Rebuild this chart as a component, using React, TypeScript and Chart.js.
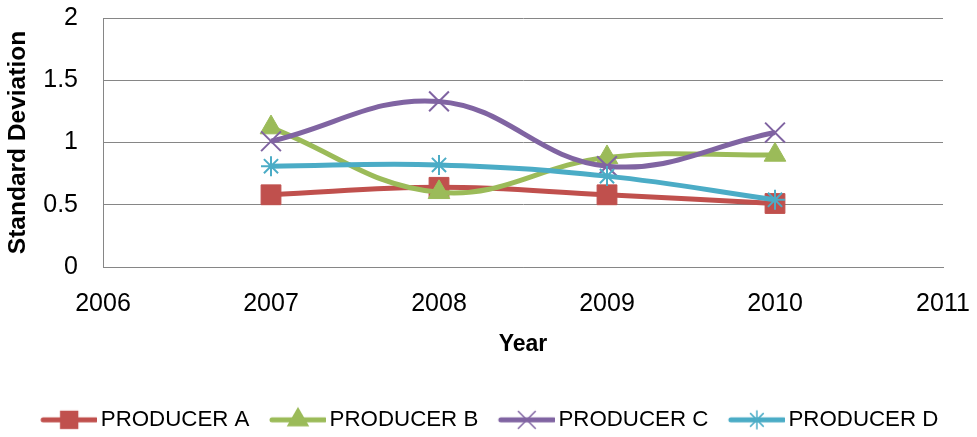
import React, { useEffect, useRef } from 'react';
import { Chart, registerables } from 'chart.js';

Chart.register(...registerables);

const years = [2007, 2008, 2009, 2010];
const producerA = [0.58, 0.64, 0.58, 0.51];
const producerB = [1.12, 0.6, 0.88, 0.9];
const producerC = [1.01, 1.33, 0.81, 1.08];
const producerD = [0.81, 0.82, 0.73, 0.54];
const seriesNames = ['PRODUCER A', 'PRODUCER B', 'PRODUCER C', 'PRODUCER D'];
const seriesValues = [producerA, producerB, producerC, producerD];
const seriesColors = ['#C0504D', '#9BBB59', '#8064A2', '#4BACC6'];
const markerStyles = ['rect', 'triangle', 'crossRot', 'star'];
const markerRadii = [14, 12.5, 14, 10];
const markerBorders = [1, 1, 2, 2];
const xMin = 2006;
const xMax = 2011;
const yMin = 0;
const yMax = 2;
const yStep = 0.5;
const xTitle = 'Year';
const yTitle = 'Standard Deviation';

const FONT = '"Liberation Sans", Arial, sans-serif';

function drawMarker(ctx: CanvasRenderingContext2D, style: string, cx: number, cy: number, r: number, color: string, bw: number) {
  ctx.fillStyle = color;
  ctx.strokeStyle = color;
  ctx.lineWidth = bw;
  ctx.beginPath();
  if (style === 'rect') {
    const s = r * Math.SQRT1_2;
    ctx.rect(cx - s, cy - s, 2 * s, 2 * s);
    ctx.fill();
  } else if (style === 'triangle') {
    ctx.moveTo(cx, cy - r);
    ctx.lineTo(cx + 0.866 * r, cy + 0.5 * r);
    ctx.lineTo(cx - 0.866 * r, cy + 0.5 * r);
    ctx.closePath();
    ctx.fill();
  } else {
    const d = r * Math.SQRT1_2;
    ctx.moveTo(cx - d, cy - d);
    ctx.lineTo(cx + d, cy + d);
    ctx.moveTo(cx - d, cy + d);
    ctx.lineTo(cx + d, cy - d);
    if (style === 'star') {
      ctx.moveTo(cx, cy - r);
      ctx.lineTo(cx, cy + r);
      ctx.moveTo(cx - r, cy);
      ctx.lineTo(cx + r, cy);
    }
    ctx.stroke();
  }
}

// legend symbol: a short line with the series marker in its middle
function legendImage(i: number): HTMLCanvasElement {
  const c = document.createElement('canvas');
  c.width = 66;
  c.height = 28;
  const ctx = c.getContext('2d') as CanvasRenderingContext2D;
  ctx.strokeStyle = seriesColors[i];
  ctx.lineWidth = 5;
  ctx.lineCap = 'round';
  ctx.beginPath();
  ctx.moveTo(12, 14);
  ctx.lineTo(65, 14);
  ctx.stroke();
  const r = i === 3 ? 9 : i === 2 ? 12 : 13;
  drawMarker(ctx, markerStyles[i], 38, 14, r, seriesColors[i], i >= 2 ? 1.5 : 1);
  return c;
}

export default function App() {
  const ref = useRef<HTMLCanvasElement | null>(null);

  useEffect(() => {
    if (!ref.current) return;
    const images = seriesNames.map((_, i) => legendImage(i));
    const chart = new Chart(ref.current, {
      type: 'line',
      data: {
        datasets: seriesNames.map((name, i) => ({
          label: name,
          data: years.map((x, j) => ({ x, y: seriesValues[i][j] })),
          borderColor: seriesColors[i],
          backgroundColor: seriesColors[i],
          borderWidth: 5,
          tension: 0.4,
          fill: false,
          pointStyle: markerStyles[i] as any,
          pointRadius: markerRadii[i],
          pointBackgroundColor: seriesColors[i],
          pointBorderColor: seriesColors[i],
          pointBorderWidth: markerBorders[i],
          order: seriesNames.length - i,
        })),
      },
      options: {
        responsive: false,
        animation: false,
        events: [],
        layout: { autoPadding: false, padding: { top: 0, right: 0, bottom: -4, left: 0 } },
        plugins: {
          tooltip: { enabled: false },
          legend: {
            position: 'bottom',
            labels: {
              usePointStyle: true,
              pointStyleWidth: 51,
              padding: 18,
              color: '#000',
              font: { family: FONT, size: 22.3 },
              generateLabels: (ch: any) =>
                ch.data.datasets.map((ds: any, i: number) => ({
                  text: ds.label,
                  fillStyle: seriesColors[i],
                  strokeStyle: seriesColors[i],
                  lineWidth: 0,
                  pointStyle: images[i],
                  hidden: false,
                  datasetIndex: i,
                  fontColor: '#000',
                })),
            },
          },
        },
        scales: {
          x: {
            type: 'linear',
            min: xMin,
            max: xMax,
            afterFit: (s: any) => {
              s.height = 123.7;
              s.paddingLeft = 0;
              s.paddingRight = 34;
            },
            ticks: {
              stepSize: 1,
              autoSkip: false,
              maxRotation: 0,
              padding: 22,
              color: '#000',
              font: { family: FONT, size: 25 },
              callback: (v: any) => String(v),
            },
            grid: { display: false, drawTicks: false },
            border: { display: true, color: '#868686', width: 1 },
            title: {
              display: true,
              text: xTitle,
              color: '#000',
              font: { family: FONT, size: 23, weight: 'bold' },
              padding: { top: 0, bottom: 32 },
            },
          },
          y: {
            type: 'linear',
            min: yMin,
            max: yMax,
            afterFit: (s: any) => {
              s.width = 103;
              s.paddingTop = 18;
              s.paddingBottom = 0;
            },
            ticks: {
              stepSize: yStep,
              padding: 25,
              color: '#000',
              font: { family: FONT, size: 25 },
              callback: (v: any) => String(v),
            },
            grid: { color: '#868686', lineWidth: 1, drawTicks: false },
            border: { display: true, color: '#868686', width: 1 },
            title: {
              display: true,
              text: yTitle,
              color: '#000',
              font: { family: FONT, size: 24.5, weight: 'bold' },
              padding: { top: 4, bottom: 0 },
            },
          },
        },
      },
    });
    return () => chart.destroy();
  }, []);

  return (
    <div style={{ position: 'absolute', left: 0, top: 0, width: 977, height: 437, background: '#fff' }}>
      <canvas ref={ref} width={977} height={437} style={{ display: 'block' }} />
    </div>
  );
}
